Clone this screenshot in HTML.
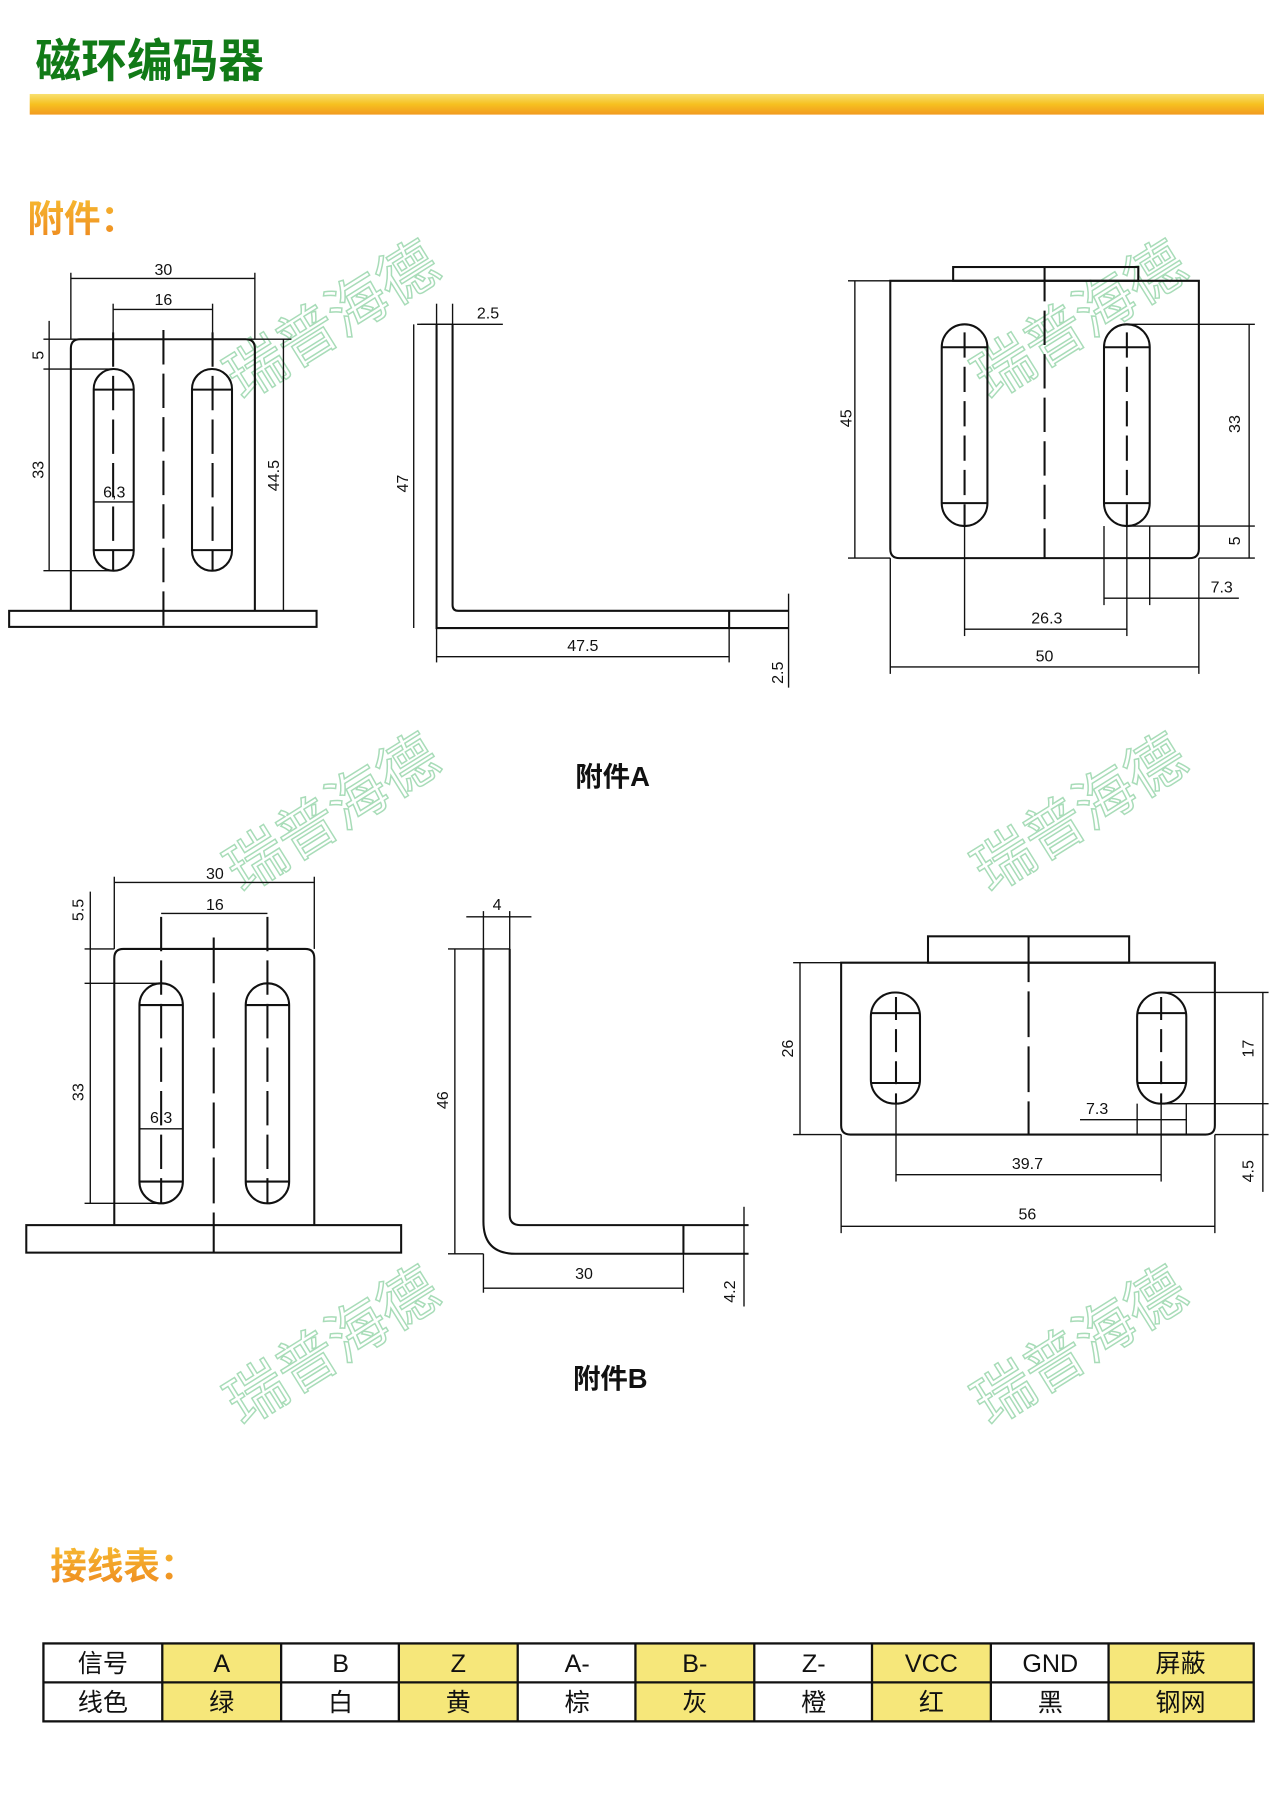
<!DOCTYPE html>
<html><head><meta charset="utf-8">
<style>
html,body{margin:0;padding:0;background:#fff;width:1280px;height:1797px;overflow:hidden;}
svg{display:block;overflow:hidden;}
text{font-family:"Liberation Sans","Noto Sans CJK SC",sans-serif;}
.d{font-family:"Liberation Sans",sans-serif;font-size:14px;fill:#111;}
</style></head><body>
<svg width="1280" height="1797" viewBox="0 0 1120 1568" preserveAspectRatio="none" xmlns="http://www.w3.org/2000/svg">
<defs>
<linearGradient id="bar" x1="0" y1="0" x2="0" y2="1">
<stop offset="0" stop-color="#f8e070"/><stop offset="0.5" stop-color="#f6c020"/><stop offset="1" stop-color="#f29a20"/>
</linearGradient>
<linearGradient id="og" x1="0" y1="0" x2="0" y2="1">
<stop offset="0" stop-color="#f6b830"/><stop offset="1" stop-color="#ee8a20"/>
</linearGradient>
</defs>
<rect width="1120" height="1568" fill="#fff"/>
<text x="31" y="67" font-size="40" font-weight="bold" fill="#117a17" font-family="'Noto Sans CJK SC',sans-serif">磁环编码器</text>
<rect x="26" y="82" width="1080" height="18" fill="url(#bar)"/>
<text x="24" y="202" font-size="32" font-weight="bold" fill="url(#og)" font-family="'Noto Sans CJK SC',sans-serif">附件：</text>
<text x="44" y="1378" font-size="32" font-weight="bold" fill="url(#og)" font-family="'Noto Sans CJK SC',sans-serif">接线表：</text>

<g fill="none" stroke="#a8dcb8" stroke-width="1.3" font-size="52" font-family="'Noto Sans CJK SC',sans-serif">
<text transform="translate(212,350) rotate(-32)">瑞普海德</text>
<text transform="translate(866,350) rotate(-32)">瑞普海德</text>
<text transform="translate(212,780) rotate(-32)">瑞普海德</text>
<text transform="translate(866,780) rotate(-32)">瑞普海德</text>
<text transform="translate(212,1245) rotate(-32)">瑞普海德</text>
<text transform="translate(866,1245) rotate(-32)">瑞普海德</text>
</g>

<g stroke="#111" stroke-width="1.8" fill="none">
<rect x="8" y="533" width="269" height="14"/>
<path d="M62 533 V304 Q62 296 70 296 H215 Q223 296 223 304 V533"/>
<rect x="82" y="322" width="35" height="176" rx="17.5"/>
<rect x="168" y="322" width="35" height="176" rx="17.5"/>
<line x1="82" y1="340" x2="117" y2="340"/><line x1="82" y1="480" x2="117" y2="480"/>
<line x1="168" y1="340" x2="203" y2="340"/><line x1="168" y1="480" x2="203" y2="480"/>
<line x1="143" y1="288" x2="143" y2="547" stroke-dasharray="30 8"/>
<line x1="99" y1="290" x2="99" y2="498" stroke-dasharray="30 8"/>
<line x1="186" y1="290" x2="186" y2="498" stroke-dasharray="30 8"/>
<g stroke-width="1.2">
<line x1="62" y1="238" x2="62" y2="296"/><line x1="223" y1="238" x2="223" y2="296"/>
<line x1="62" y1="243" x2="223" y2="243"/>
<line x1="99" y1="265" x2="99" y2="296"/><line x1="186" y1="265" x2="186" y2="296"/>
<line x1="99" y1="270" x2="186" y2="270"/>
<line x1="38" y1="296" x2="255" y2="296"/><line x1="38" y1="322" x2="99" y2="322"/><line x1="38" y1="498" x2="99" y2="498"/>
<line x1="43" y1="280" x2="43" y2="498"/>
<line x1="248" y1="296" x2="248" y2="533"/>
<line x1="82" y1="438" x2="117" y2="438"/>
</g>
<path d="M382 283 V548 H690 M396 283 V528 Q396 533 401 533 H690 M638 533 V548"/>
<g stroke-width="1.2">
<line x1="365" y1="283" x2="396" y2="283"/>
<line x1="382" y1="265" x2="382" y2="283"/><line x1="396" y1="265" x2="396" y2="283"/>
<line x1="368" y1="283" x2="440" y2="283"/>
<line x1="362" y1="283" x2="362" y2="548"/>
<line x1="382" y1="548" x2="382" y2="578"/><line x1="638" y1="548" x2="638" y2="578"/>
<line x1="382" y1="573" x2="638" y2="573"/>
<line x1="690" y1="518" x2="690" y2="600"/>
</g>
<rect x="834" y="233" width="162" height="12"/>
<path d="M779 245 H1049 V479 Q1049 487 1041 487 H787 Q779 487 779 479 Z"/>
<rect x="824" y="283" width="40" height="176" rx="20"/>
<rect x="966" y="283" width="40" height="176" rx="20"/>
<line x1="824" y1="303" x2="864" y2="303"/><line x1="824" y1="439" x2="864" y2="439"/>
<line x1="966" y1="303" x2="1006" y2="303"/><line x1="966" y1="439" x2="1006" y2="439"/>
<line x1="914" y1="233" x2="914" y2="487" stroke-dasharray="30 8"/>
<line x1="844" y1="290" x2="844" y2="459" stroke-dasharray="22 8"/>
<line x1="986" y1="290" x2="986" y2="459" stroke-dasharray="22 8"/>
<g stroke-width="1.2">
<line x1="742" y1="245" x2="779" y2="245"/><line x1="742" y1="487" x2="779" y2="487"/>
<line x1="748" y1="245" x2="748" y2="487"/>
<line x1="986" y1="283" x2="1098" y2="283"/><line x1="986" y1="459" x2="1098" y2="459"/><line x1="1049" y1="487" x2="1098" y2="487"/>
<line x1="1093" y1="283" x2="1093" y2="487"/>
<line x1="966" y1="459" x2="966" y2="528"/><line x1="1006" y1="459" x2="1006" y2="528"/>
<line x1="966" y1="522" x2="1084" y2="522"/>
<line x1="844" y1="459" x2="844" y2="555"/><line x1="986" y1="459" x2="986" y2="555"/>
<line x1="844" y1="549" x2="986" y2="549"/>
<line x1="779" y1="487" x2="779" y2="588"/><line x1="1049" y1="487" x2="1049" y2="588"/>
<line x1="779" y1="582" x2="1049" y2="582"/>
</g>

<rect x="23" y="1069" width="328" height="24"/>
<path d="M100 1069 V836 Q100 828 108 828 H267 Q275 828 275 836 V1069"/>
<rect x="122" y="858" width="38" height="192" rx="19"/>
<rect x="215" y="858" width="38" height="192" rx="19"/>
<line x1="122" y1="877" x2="160" y2="877"/><line x1="122" y1="1031" x2="160" y2="1031"/>
<line x1="215" y1="877" x2="253" y2="877"/><line x1="215" y1="1031" x2="253" y2="1031"/>
<line x1="187" y1="818" x2="187" y2="1093" stroke-dasharray="40 8"/>
<line x1="141" y1="800" x2="141" y2="1050" stroke-dasharray="30 8"/>
<line x1="234" y1="800" x2="234" y2="1050" stroke-dasharray="30 8"/>
<g stroke-width="1.2">
<line x1="100" y1="765" x2="100" y2="828"/><line x1="275" y1="765" x2="275" y2="828"/>
<line x1="100" y1="770" x2="275" y2="770"/>
<line x1="141" y1="797" x2="234" y2="797"/>
<line x1="74" y1="828" x2="100" y2="828"/><line x1="74" y1="858" x2="141" y2="858"/><line x1="74" y1="1050" x2="141" y2="1050"/>
<line x1="79" y1="778" x2="79" y2="1050"/>
<line x1="122" y1="985" x2="160" y2="985"/>
</g>
<path d="M423 828 V1066 Q423 1094 451 1094 H655 M446 828 V1060 Q446 1069 455 1069 H655 M598 1069 V1094"/>
<g stroke-width="1.2">
<line x1="392" y1="828" x2="446" y2="828"/>
<line x1="423" y1="795" x2="423" y2="828"/><line x1="446" y1="795" x2="446" y2="828"/>
<line x1="408" y1="800" x2="465" y2="800"/>
<line x1="398" y1="828" x2="398" y2="1094"/><line x1="392" y1="1094" x2="423" y2="1094"/>
<line x1="423" y1="1094" x2="423" y2="1128"/><line x1="598" y1="1094" x2="598" y2="1128"/>
<line x1="423" y1="1124" x2="598" y2="1124"/>
<line x1="651" y1="1053" x2="651" y2="1140"/>
</g>
<rect x="812" y="817" width="176" height="23"/>
<path d="M736 840 H1063 V982 Q1063 990 1055 990 H744 Q736 990 736 982 Z"/>
<rect x="762" y="866" width="43" height="97" rx="21"/>
<rect x="995" y="866" width="43" height="97" rx="21"/>
<line x1="762" y1="884" x2="805" y2="884"/><line x1="762" y1="945" x2="805" y2="945"/>
<line x1="995" y1="884" x2="1038" y2="884"/><line x1="995" y1="945" x2="1038" y2="945"/>
<line x1="900" y1="817" x2="900" y2="990" stroke-dasharray="40 8"/>
<line x1="784" y1="870" x2="784" y2="963" stroke-dasharray="20 8"/>
<line x1="1016" y1="870" x2="1016" y2="963" stroke-dasharray="20 8"/>
<g stroke-width="1.2">
<line x1="694" y1="840" x2="736" y2="840"/><line x1="694" y1="990" x2="736" y2="990"/>
<line x1="700" y1="840" x2="700" y2="990"/>
<line x1="1016" y1="866" x2="1110" y2="866"/><line x1="1016" y1="963" x2="1110" y2="963"/>
<line x1="1063" y1="990" x2="1110" y2="990"/>
<line x1="1105" y1="866" x2="1105" y2="1040"/>
<line x1="945" y1="977" x2="1038" y2="977"/>
<line x1="995" y1="963" x2="995" y2="990"/><line x1="1038" y1="963" x2="1038" y2="990"/>
<line x1="784" y1="963" x2="784" y2="1031"/><line x1="1016" y1="963" x2="1016" y2="1031"/>
<line x1="784" y1="1025" x2="1016" y2="1025"/>
<line x1="736" y1="990" x2="736" y2="1076"/><line x1="1063" y1="990" x2="1063" y2="1076"/>
<line x1="736" y1="1070" x2="1063" y2="1070"/>
</g>
</g>

<g class="d">
<text x="143" y="240" text-anchor="middle" class="d">30</text>
<text x="143" y="266" text-anchor="middle" class="d">16</text>
<text x="100" y="434" text-anchor="middle" class="d">6,3</text>
<text transform="translate(38,310) rotate(-90)" text-anchor="middle" class="d">5</text>
<text transform="translate(38,410) rotate(-90)" text-anchor="middle" class="d">33</text>
<text transform="translate(244,415) rotate(-90)" text-anchor="middle" class="d">44.5</text>
<text x="427" y="278" text-anchor="middle" class="d">2.5</text>
<text transform="translate(357,422) rotate(-90)" text-anchor="middle" class="d">47</text>
<text x="510" y="568" text-anchor="middle" class="d">47.5</text>
<text transform="translate(685,587) rotate(-90)" text-anchor="middle" class="d">2.5</text>
<text transform="translate(745,365) rotate(-90)" text-anchor="middle" class="d">45</text>
<text transform="translate(1085,370) rotate(-90)" text-anchor="middle" class="d">33</text>
<text transform="translate(1085,472) rotate(-90)" text-anchor="middle" class="d">5</text>
<text x="1069" y="517" text-anchor="middle" class="d">7.3</text>
<text x="916" y="544" text-anchor="middle" class="d">26.3</text>
<text x="914" y="577" text-anchor="middle" class="d">50</text>
<text x="188" y="767" text-anchor="middle" class="d">30</text>
<text x="188" y="794" text-anchor="middle" class="d">16</text>
<text x="141" y="980" text-anchor="middle" class="d">6,3</text>
<text transform="translate(73,794) rotate(-90)" text-anchor="middle" class="d">5.5</text>
<text transform="translate(73,953) rotate(-90)" text-anchor="middle" class="d">33</text>
<text x="435" y="794" text-anchor="middle" class="d">4</text>
<text transform="translate(392,960) rotate(-90)" text-anchor="middle" class="d">46</text>
<text x="511" y="1116" text-anchor="middle" class="d">30</text>
<text transform="translate(643,1127) rotate(-90)" text-anchor="middle" class="d">4.2</text>
<text transform="translate(694,915) rotate(-90)" text-anchor="middle" class="d">26</text>
<text transform="translate(1097,915) rotate(-90)" text-anchor="middle" class="d">17</text>
<text transform="translate(1097,1022) rotate(-90)" text-anchor="middle" class="d">4.5</text>
<text x="960" y="972" text-anchor="middle" class="d">7.3</text>
<text x="899" y="1020" text-anchor="middle" class="d">39.7</text>
<text x="899" y="1064" text-anchor="middle" class="d">56</text>
</g>
<text x="536" y="686" text-anchor="middle" font-size="24" font-weight="bold" fill="#111">附件A</text>
<text x="534" y="1211" text-anchor="middle" font-size="24" font-weight="bold" fill="#111">附件B</text>

<g>
<rect x="142" y="1434" width="104" height="68" fill="#f6e77a"/>
<rect x="349" y="1434" width="104" height="68" fill="#f6e77a"/>
<rect x="556" y="1434" width="104" height="68" fill="#f6e77a"/>
<rect x="763" y="1434" width="104" height="68" fill="#f6e77a"/>
<rect x="970" y="1434" width="127" height="68" fill="#f6e77a"/>
<g stroke="#111" stroke-width="2" fill="none">
<rect x="38" y="1434" width="1059" height="68"/>
<line x1="38" y1="1468" x2="1097" y2="1468"/>
<line x1="142" y1="1434" x2="142" y2="1502"/><line x1="246" y1="1434" x2="246" y2="1502"/>
<line x1="349" y1="1434" x2="349" y2="1502"/><line x1="453" y1="1434" x2="453" y2="1502"/>
<line x1="556" y1="1434" x2="556" y2="1502"/><line x1="660" y1="1434" x2="660" y2="1502"/>
<line x1="763" y1="1434" x2="763" y2="1502"/><line x1="867" y1="1434" x2="867" y2="1502"/>
<line x1="970" y1="1434" x2="970" y2="1502"/>
</g>
<g font-size="22" fill="#111" text-anchor="middle">
<text x="90" y="1459">信号</text><text x="194" y="1459">A</text><text x="298" y="1459">B</text><text x="401" y="1459">Z</text><text x="505" y="1459">A-</text><text x="608" y="1459">B-</text><text x="712" y="1459">Z-</text><text x="815" y="1459">VCC</text><text x="919" y="1459">GND</text><text x="1033" y="1459">屏蔽</text>
<text x="90" y="1493">线色</text><text x="194" y="1493">绿</text><text x="298" y="1493">白</text><text x="401" y="1493">黄</text><text x="505" y="1493">棕</text><text x="608" y="1493">灰</text><text x="712" y="1493">橙</text><text x="815" y="1493">红</text><text x="919" y="1493">黑</text><text x="1033" y="1493">钢网</text>
</g>
</g>
</svg>
</body></html>
